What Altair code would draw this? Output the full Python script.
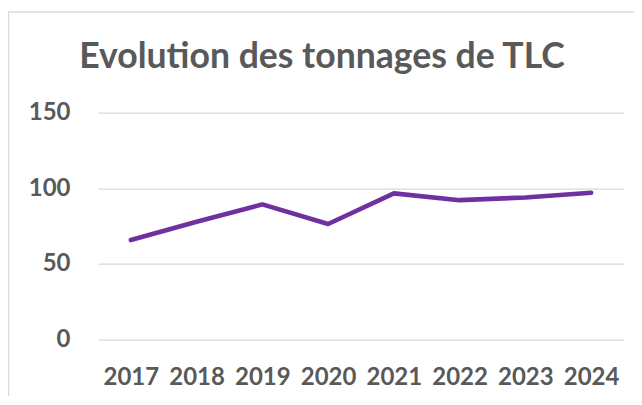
import altair as alt
import pandas as pd

years = ["2017", "2018", "2019", "2020", "2021", "2022", "2023", "2024"]
tonnages = [65.7, 77.8, 89.3, 76.3, 96.6, 92.1, 93.9, 97.0]
title_text = "Evolution des tonnages de TLC"

df = pd.DataFrame({"annee": years, "tonnage": tonnages})

FONT = "Lato"
GREY = "#595959"

line = alt.Chart(df).mark_line(color="#7030A0", strokeWidth=4.6, strokeCap="round", strokeJoin="round").encode(
    x=alt.X("annee:O", sort=years, scale=alt.Scale(type="point", padding=0.5),
            axis=alt.Axis(title=None, labelAngle=0, ticks=False, domain=False, labelPadding=26,
                          labelFont=FONT, labelFontSize=24, labelFontWeight="bold", labelColor=GREY)),
    y=alt.Y("tonnage:Q", scale=alt.Scale(domain=[0, 150], nice=False),
            axis=alt.Axis(title=None, values=[0, 50, 100, 150], ticks=False, domain=False, labelPadding=28,
                          labelFont=FONT, labelFontSize=24, labelFontWeight="bold", labelColor=GREY,
                          gridColor="#D9D9D9", gridWidth=1.3)),
)

one = pd.DataFrame({"t": [title_text]})

border = alt.Chart(one).mark_rect(fill=None, stroke="#D9D9D9", strokeWidth=1.3).encode(
    x=alt.value(-89.4), x2=alt.value(700), y=alt.value(-100.7), y2=alt.value(400)
)

title = alt.Chart(one).mark_text(font=FONT, fontSize=35.6, fontWeight="bold", color=GREY,
                                 align="center", baseline="alphabetic").encode(
    text="t:N", x=alt.value(224), y=alt.value(-44.5)
)

chart = alt.layer(border, title, line).properties(
    width=526, height=226.6,
    autosize=alt.AutoSizeParams(type="none"),
    padding={"left": 90, "top": 104.7, "right": 10, "bottom": 57},
).configure_view(stroke=None)

chart.save("out.html", embed_options={"renderer": "svg", "actions": False})
